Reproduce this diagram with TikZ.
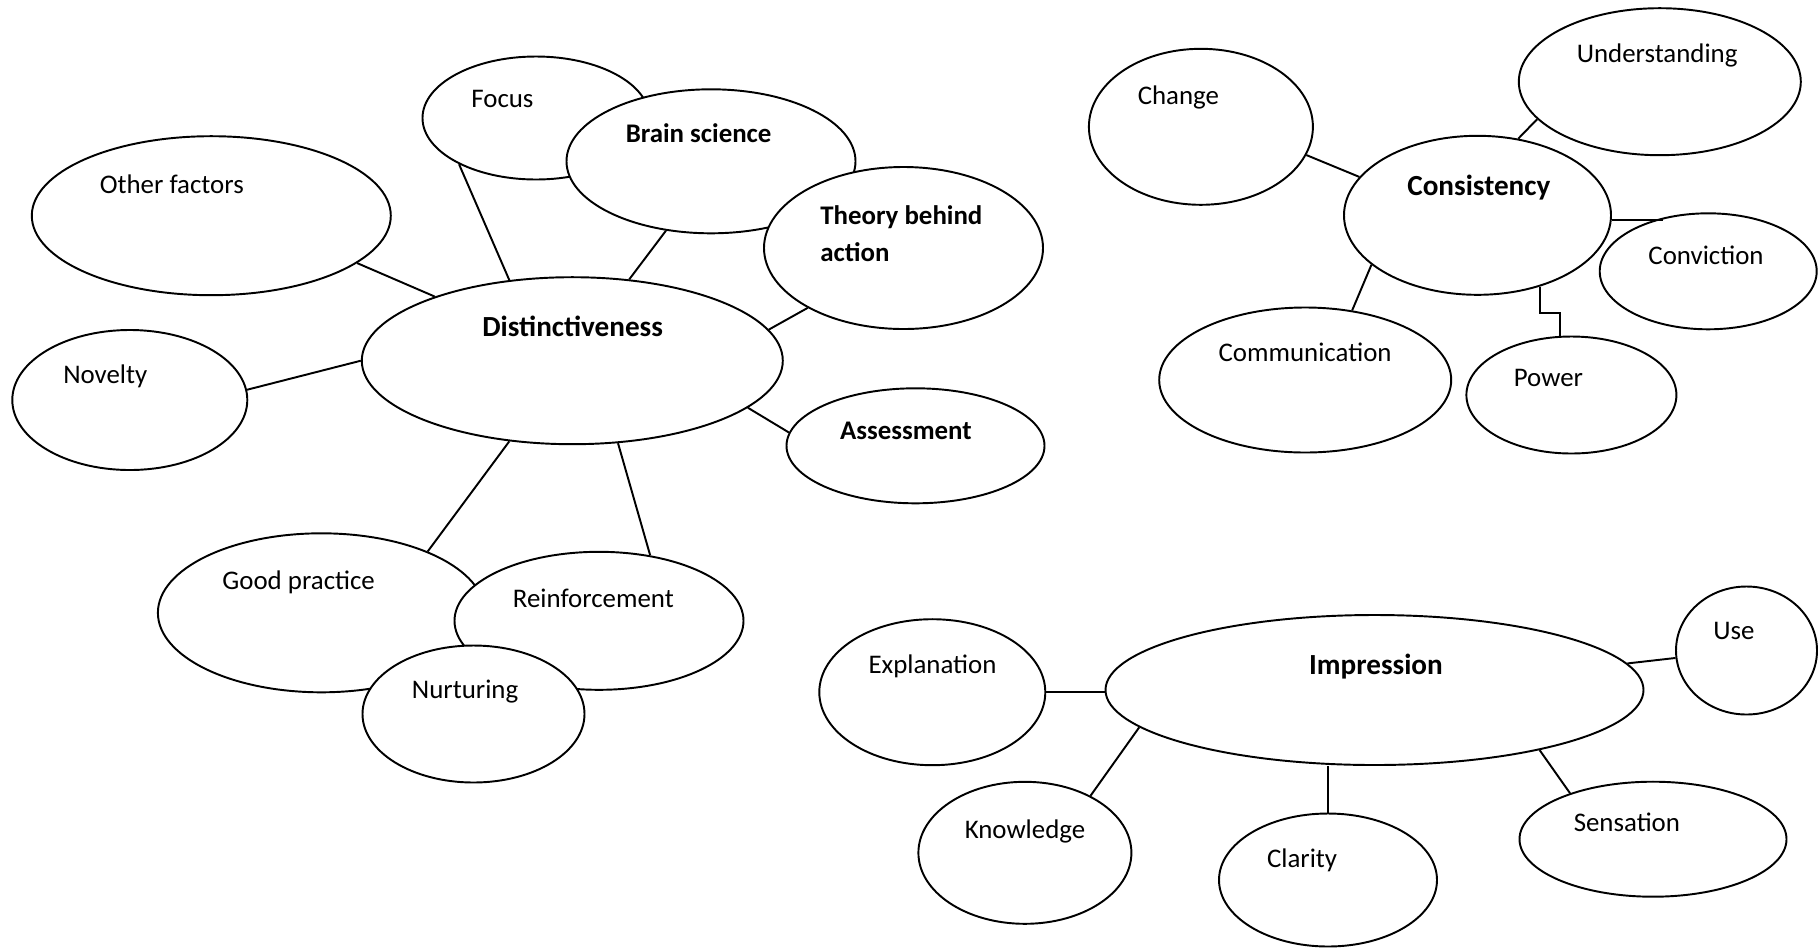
\documentclass[tikz,border=0pt]{standalone}
\usepackage{fontspec}
\setmainfont{Carlito}
\usepackage{tikz}
\usetikzlibrary{shapes.geometric}

\begin{document}
\begin{tikzpicture}[x=0.02cm,y=-0.02cm,
  bub/.style 2 args={ellipse,draw,fill=white,line width=1.1pt,inner sep=0pt,
    minimum width=#1*0.02cm,minimum height=#2*0.02cm},
  lbl/.style={anchor=base west,inner sep=0pt,font=\fontsize{15.3}{21}\selectfont},
  blbl/.style={lbl,font=\fontsize{15.3}{21}\selectfont\bfseries},
  hub/.style={lbl,font=\fontsize{16.6}{21}\selectfont\bfseries},
  link/.style={line width=1.1pt}]
\useasboundingbox (0,0) rectangle (1819,948);

\node[bub={359}{159}] (other) at (211.3,215.7) {};
\node[bub={227}{123}] (focus) at (536,118) {};
\node[bub={289}{144}] (brain) at (711,161.3) {};
\node[bub={279}{162}] (theory) at (903.5,248) {};
\node[bub={421}{167}] (dist) at (572.3,360.7) {};
\node[bub={235}{140}] (novelty) at (129.8,400) {};
\node[bub={258}{115}] (assess) at (915.5,445.8) {};
\node[bub={327}{159}] (good) at (321.4,612.8) {};
\node[bub={289}{138}] (reinf) at (599,620.8) {};
\node[bub={222}{137}] (nurt) at (473.5,714) {};

\node[bub={224}{156}] (change) at (1200.9,126.8) {};
\node[bub={282}{147}] (under) at (1659.8,81.7) {};
\node[bub={267}{159}] (cons) at (1477.5,215.3) {};
\node[bub={217}{116}] (conv) at (1708.2,271.3) {};
\node[bub={292}{145}] (comm) at (1305.2,380) {};
\node[bub={210}{117}] (power) at (1571.4,395) {};

\node[bub={226}{146}] (expl) at (932.3,692.2) {};
\node[bub={538}{150}] (impr) at (1374.5,690) {};
\node[bub={141}{128}] (use) at (1746.5,650.5) {};
\node[bub={213}{142}] (know) at (1024.9,852.8) {};
\node[bub={218}{133}] (clar) at (1328,880) {};
\node[bub={267}{115}] (sens) at (1653,839.2) {};

\draw[link] (focus.211) -- (dist.128);
\draw[link] (brain.237) -- (dist.55);
\draw[link] (theory.212) -- (dist.9);
\draw[link] (other.342) -- (dist.155);
\draw[link] (novelty.5) -- (dist.180);
\draw[link] (assess.174) -- (dist.345);
\draw[link] (good.30) -- (dist.232);
\draw[link] (reinf.52) -- (dist.299);

\draw[link] (change.345) -- (cons.162);
\draw[link] (under.197) -- (cons.62);
\draw[link] (cons.358) -- (cons.358 -| conv.130);
\draw[link] (comm.56) -- (cons.205);
\draw[link] (cons.311) -- ++(0,26) -| (power.101);

\draw[link] (expl.east) -- (expl.east -| impr.west);
\draw[link] (use.186) -- (impr.6);
\draw[link] (know.41) -- (impr.189);
\draw[link] (clar.north) -- (clar.north |- impr.south);
\draw[link] (sens.151) -- (impr.340);

\node[lbl] (focus-t) at (471,107) {Focus};
\node[blbl] (brain-t) at (625.4,142) {Brain science};
\node[blbl,anchor=west,align=left] (theory-t) at (820,233.5) {Theory behind\\action};
\node[lbl] (other-t) at (99.4,193) {Other factors};
\node[hub] (dist-t) at (482,336.3) {Distinctiveness};
\node[lbl] (novelty-t) at (62.9,383.7) {Novelty};
\node[blbl] (assess-t) at (839.7,439.7) {Assessment};
\node[lbl] (good-t) at (222.1,589) {Good practice};
\node[lbl] (reinf-t) at (512.6,607.3) {Reinforcement};
\node[lbl] (nurt-t) at (411.6,698) {Nurturing};

\node[lbl] (change-t) at (1137.4,104) {Change};
\node[lbl] (under-t) at (1576.4,62.3) {Understanding};
\node[hub] (cons-t) at (1407,195.5) {Consistency};
\node[lbl] (conv-t) at (1648.1,264) {Conviction};
\node[lbl] (comm-t) at (1218.3,361.3) {Communication};
\node[lbl] (power-t) at (1513.5,386.3) {Power};

\node[lbl] (expl-t) at (868.2,673) {Explanation};
\node[hub] (impr-t) at (1308.8,674) {Impression};
\node[lbl] (use-t) at (1713,639.7) {Use};
\node[lbl] (know-t) at (964.4,838) {Knowledge};
\node[lbl] (clar-t) at (1266.7,867.3) {Clarity};
\node[lbl] (sens-t) at (1573.4,831.3) {Sensation};
\end{tikzpicture}
\end{document}
